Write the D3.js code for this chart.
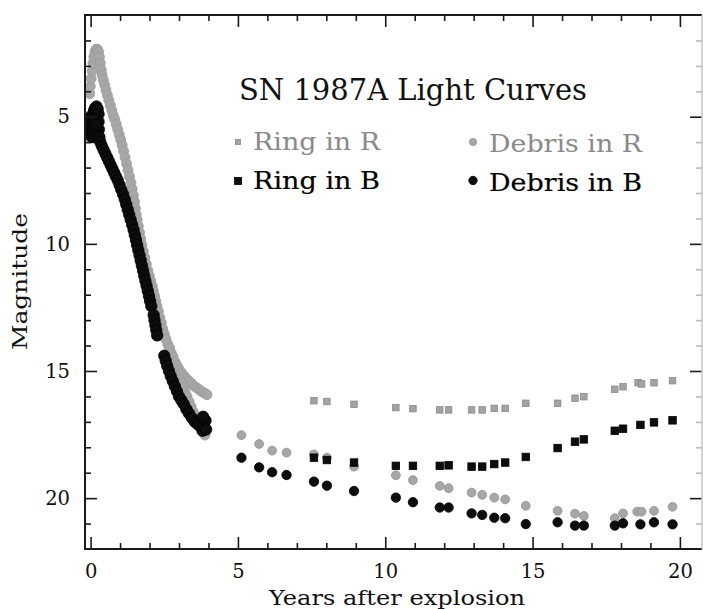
<!DOCTYPE html>
<html><head><meta charset="utf-8">
<script src="https://cdn.jsdelivr.net/npm/d3@7"></script>
<style>body{margin:0;background:#fff} svg{display:block}</style>
</head><body><svg id="c" width="703" height="609"></svg>
<script>
// ---- data: [years after explosion, magnitude] ----
const ringR = [[7.58,16.17],[8.02,16.2],[8.94,16.31],[10.36,16.44],[10.94,16.48],[11.85,16.53],[12.15,16.53],[12.93,16.53],[13.29,16.53],[13.7,16.47],[14.07,16.47],[14.77,16.27],[15.85,16.27],[16.44,16.07],[16.74,16.01],[17.79,15.72],[18.07,15.62],[18.58,15.46],[18.7,15.51],[19.12,15.46],[19.75,15.38]];
const ringB = [[7.58,18.41],[8.02,18.5],[8.94,18.6],[10.36,18.73],[10.94,18.73],[11.85,18.73],[12.15,18.71],[12.93,18.76],[13.29,18.76],[13.7,18.66],[14.07,18.6],[14.77,18.38],[15.85,18.03],[16.44,17.78],[16.74,17.69],[17.79,17.35],[18.07,17.27],[18.66,17.12],[19.12,17.02],[19.75,16.94]];
const debrisR = [[5.12,17.52],[5.72,17.87],[6.16,18.13],[6.65,18.21],[7.58,18.28],[8.02,18.41],[8.94,18.76],[10.36,19.1],[10.94,19.29],[11.85,19.52],[12.15,19.61],[12.93,19.78],[13.29,19.87],[13.7,19.98],[14.07,20.05],[14.77,20.3],[15.85,20.5],[16.44,20.61],[16.74,20.7],[17.79,20.79],[18.07,20.6],[18.55,20.53],[18.7,20.53],[19.12,20.5],[19.75,20.34]];
const debrisB = [[5.12,18.41],[5.72,18.79],[6.16,18.98],[6.65,19.09],[7.58,19.35],[8.02,19.51],[8.94,19.72],[10.36,19.98],[10.94,20.16],[11.85,20.37],[12.15,20.37],[12.93,20.6],[13.29,20.66],[13.7,20.77],[14.07,20.79],[14.77,21.02],[15.85,20.95],[16.44,21.08],[16.74,21.08],[17.79,21.08],[18.07,20.99],[18.66,21.03],[19.12,20.95],[19.75,21.03]];
// early supernova light curve (dense monitoring)
const earlyR = [[-0.03,4.1],[-0.01,3.8],[0.02,3.5],[0.05,3.2],[0.08,2.9],[0.11,2.65],[0.15,2.45],[0.19,2.35],[0.23,2.35],[0.27,2.45],[0.3,2.65],[0.33,2.9],[0.36,3.15],[0.39,3.35],
 [0.43,3.55],[0.48,3.75],[0.52,3.95],[0.57,4.15],[0.62,4.35],[0.67,4.55],[0.72,4.75],[0.77,4.95],[0.82,5.1],[0.87,5.3],[0.92,5.5],[0.97,5.7],[1.02,5.9],[1.07,6.12],[1.12,6.35],[1.17,6.6],[1.22,6.85],[1.27,7.1],[1.32,7.35],[1.37,7.6],[1.41,7.85],[1.45,8.1],[1.49,8.35],[1.52,8.6],[1.55,8.85],[1.58,9.05],[1.62,9.3],[1.66,9.55],[1.7,9.8],[1.74,10.05],[1.79,10.3],[1.84,10.55],[1.89,10.8],[1.94,11.05],[1.99,11.25],[2.04,11.45],[2.09,11.65],[2.13,11.85],[2.17,12.05],[2.21,12.25],[2.25,12.45],[2.3,12.65],[2.35,12.9],[2.4,13.1],[2.45,13.35],[2.5,13.55],[2.56,13.75],[2.62,13.95],[2.68,14.1],[2.74,14.3],[2.8,14.45],[2.87,14.65],[2.94,14.8],[3.01,14.95],[3.09,15.08],[3.17,15.2],[3.25,15.3],[3.34,15.4],[3.43,15.5],[3.52,15.6],[3.61,15.67],[3.7,15.75],[3.79,15.82],[3.88,15.88],[3.95,15.93],
 [3.02,15.35],[3.08,15.5],[3.14,15.65],[3.2,15.82],[3.27,16.0],[3.34,16.2],[3.41,16.4],[3.48,16.6],[3.55,16.78],[3.62,16.95],[3.69,17.1],[3.76,17.28],[3.82,17.42],[3.88,17.52]];
const earlyB = [[0.0,5.0],[0.0,5.3],[0.0,5.6],[0.03,5.8],[0.06,5.5],[0.06,5.15],[0.08,4.9],[0.12,4.75],[0.16,4.65],[0.2,4.6],[0.24,4.7],[0.27,4.9],[0.27,5.2],[0.28,5.5],[0.12,5.1],[0.15,5.45],[0.2,5.3],[0.1,5.8],[0.22,5.75],[0.3,5.8],
 [0.33,6.0],[0.38,6.15],[0.44,6.3],[0.5,6.45],[0.56,6.6],[0.62,6.75],[0.68,6.9],[0.74,7.05],[0.8,7.2],[0.86,7.35],[0.92,7.5],[0.98,7.68],[1.04,7.86],[1.1,8.05],[1.16,8.25],[1.21,8.45],[1.26,8.65],[1.31,8.85],[1.36,9.05],[1.41,9.25],[1.46,9.45],[1.5,9.65],[1.54,9.85],[1.58,10.05],[1.62,10.25],[1.66,10.45],[1.7,10.65],[1.74,10.85],[1.78,11.05],[1.82,11.25],[1.86,11.45],[1.9,11.65],[1.94,11.85],[1.98,12.05],[2.02,12.25],[2.06,12.45],
 [2.14,12.8],[2.17,13.0],[2.2,13.2],[2.23,13.4],[2.26,13.6],
 [2.5,14.4],[2.55,14.6],[2.6,14.8],[2.66,15.0],[2.72,15.2],[2.79,15.4],[2.86,15.6],[2.93,15.8],[3.0,16.0],[3.08,16.15],[3.16,16.3],[3.25,16.5],[3.34,16.67],[3.44,16.85],[3.54,17.0],[3.64,17.1],[3.74,17.2],[3.8,17.35],[3.85,17.2],[3.9,16.95],[3.82,16.8],[3.92,17.3]];
const xMajor = [0,5,10,15,20];
const yMajor = [5,10,15,20];
const xMinor = d3.range(0,21).filter(d => d % 5 !== 0);
const yMinor = d3.range(2,22).filter(d => d % 5 !== 0);
const title = "SN 1987A Light Curves";
const legendItems = [
  {label:"Ring in R", key:"ringR"},
  {label:"Ring in B", key:"ringB"},
  {label:"Debris in R", key:"debrisR"},
  {label:"Debris in B", key:"debrisB"}
];
const xTitle = "Years after explosion";
const yTitle = "Magnitude";

// ---- drawing ----
const L = 85, R = 702, T = 15, B = 549;
const svg = d3.select('#c');
const x = d3.scaleLinear().domain([-0.19, 20.75]).range([L, R]);
const y = d3.scaleLinear().domain([1, 22]).range([T, B]);
const FONT = "'DejaVu Serif', serif";
const GRAY = "#a7a7a7", GRAYS = "#8e8e8e", INK = "#111";

const style = {
  ringR:  {shape:"square", size:6.5, fill:"#a3a3a3", stroke:"#8a8a8a"},
  ringB:  {shape:"square", size:7.5, fill:"#0d0d0d", stroke:"#000"},
  debrisR:{shape:"circle", r:4.4, fill:GRAY, stroke:GRAYS},
  debrisB:{shape:"circle", r:4.7, fill:"#0d0d0d", stroke:"#000"},
  earlyR: {shape:"circle", r:5.0, fill:GRAY, stroke:"#9c9c9c"},
  earlyB: {shape:"circle", r:5.7, fill:"#0d0d0d", stroke:"#000"}
};

function drawSeries(g, data, st) {
  if (st.shape === "circle") {
    g.selectAll(null).data(data).join("circle")
      .attr("cx", d => x(d[0])).attr("cy", d => y(d[1])).attr("r", st.r)
      .attr("fill", st.fill).attr("stroke", st.stroke).attr("stroke-width", 0.8);
  } else {
    g.selectAll(null).data(data).join("rect")
      .attr("x", d => x(d[0]) - st.size/2).attr("y", d => y(d[1]) - st.size/2)
      .attr("width", st.size).attr("height", st.size)
      .attr("fill", st.fill).attr("stroke", st.stroke).attr("stroke-width", 0.8);
  }
}

const plot = svg.append("g");
drawSeries(plot.append("g"), earlyR, style.earlyR);
drawSeries(plot.append("g"), debrisR, style.debrisR);
drawSeries(plot.append("g"), ringR, style.ringR);
drawSeries(plot.append("g"), earlyB, style.earlyB);
drawSeries(plot.append("g"), debrisB, style.debrisB);
drawSeries(plot.append("g"), ringB, style.ringB);

// axes (ticks inward)
function styleAxis(g) {
  g.select(".domain").remove();
  g.selectAll(".tick line").attr("stroke", "#1a1a1a").attr("stroke-width", 1.6);
  g.selectAll(".tick text").attr("font-family", FONT).attr("font-size", 19.5).attr("fill", INK);
}
const fmt = d3.format("d");
svg.append("g").attr("transform", `translate(0,${B})`)
  .call(d3.axisBottom(x).tickValues(xMajor).tickSizeInner(-12).tickSizeOuter(0).tickPadding(15).tickFormat(fmt)).call(styleAxis);
svg.append("g").attr("transform", `translate(0,${B})`)
  .call(d3.axisBottom(x).tickValues(xMinor).tickSizeInner(-6).tickSizeOuter(0).tickFormat("")).call(styleAxis);
svg.append("g").attr("transform", `translate(0,${T})`)
  .call(d3.axisTop(x).tickValues(xMajor).tickSizeInner(-12).tickSizeOuter(0).tickFormat("")).call(styleAxis);
svg.append("g").attr("transform", `translate(0,${T})`)
  .call(d3.axisTop(x).tickValues(xMinor).tickSizeInner(-6).tickSizeOuter(0).tickFormat("")).call(styleAxis);
svg.append("g").attr("transform", `translate(${L},0)`)
  .call(d3.axisLeft(y).tickValues(yMajor).tickSizeInner(-12).tickSizeOuter(0).tickPadding(15).tickFormat(fmt)).call(styleAxis);
svg.append("g").attr("transform", `translate(${L},0)`)
  .call(d3.axisLeft(y).tickValues(yMinor).tickSizeInner(-6).tickSizeOuter(0).tickFormat("")).call(styleAxis);
svg.append("g").attr("transform", `translate(${R},0)`)
  .call(d3.axisRight(y).tickValues(yMajor).tickSizeInner(-12).tickSizeOuter(0).tickFormat("")).call(styleAxis);
svg.append("g").attr("transform", `translate(${R},0)`)
  .call(d3.axisRight(y).tickValues(yMinor).tickSizeInner(-6).tickSizeOuter(0).tickFormat("")).call(g => {styleAxis(g); g.selectAll(".tick line").attr("stroke","#bbb");});

// frame
svg.append("path").attr("d", `M${R},${T}H${L}V${B}H${R}`).attr("fill","none").attr("stroke","#1a1a1a").attr("stroke-width",2);
svg.append("line").attr("x1",R).attr("x2",R).attr("y1",T).attr("y2",B).attr("stroke","#c4c4c4").attr("stroke-width",1.5);

// title & legend
svg.append("text").attr("x", 239).attr("y", 99.5).text(title)
  .attr("font-family", FONT).attr("font-size", 29).attr("fill", INK)
  .attr("textLength", 348).attr("lengthAdjust", "spacingAndGlyphs");

const legPos = {
  ringR:  {mx:238, my:142, tx:253, ty:150, len:127, col:"#8a8a8a"},
  ringB:  {mx:238, my:181, tx:253, ty:188.5, len:127, col:"#000"},
  debrisR:{mx:473, my:142, tx:489, ty:152, len:153, col:"#8a8a8a"},
  debrisB:{mx:473, my:180.5, tx:489, ty:191, len:153, col:"#000"}
};
const leg = svg.append("g");
legendItems.forEach(it => {
  const p = legPos[it.key], st = style[it.key];
  if (st.shape === "square") {
    const s = it.key === "ringR" ? 5 : 7;
    leg.append("rect").attr("x", p.mx - s/2).attr("y", p.my - s/2).attr("width", s).attr("height", s)
      .attr("fill", st.fill).attr("stroke", st.stroke).attr("stroke-width", 0.8);
  } else {
    leg.append("circle").attr("cx", p.mx).attr("cy", p.my).attr("r", it.key === "debrisR" ? 3.6 : 4.2)
      .attr("fill", st.fill).attr("stroke", st.stroke).attr("stroke-width", 0.8);
  }
  leg.append("text").attr("x", p.tx).attr("y", p.ty).text(it.label)
    .attr("font-family", FONT).attr("font-size", 24.5).attr("fill", p.col)
    .attr("stroke", p.col === "#000" ? "#000" : "none").attr("stroke-width", 0.2)
    .attr("textLength", p.len).attr("lengthAdjust", "spacingAndGlyphs");
});

// axis titles
svg.append("text").attr("x", 269).attr("y", 605).text(xTitle)
  .attr("font-family", FONT).attr("font-size", 20.5).attr("fill", INK)
  .attr("textLength", 256).attr("lengthAdjust", "spacingAndGlyphs");
svg.append("text").attr("transform", "translate(26.7,281.5) rotate(-90)")
  .attr("text-anchor", "middle").text(yTitle)
  .attr("font-family", FONT).attr("font-size", 20.5).attr("fill", INK)
  .attr("textLength", 137).attr("lengthAdjust", "spacingAndGlyphs");
</script></body></html>
